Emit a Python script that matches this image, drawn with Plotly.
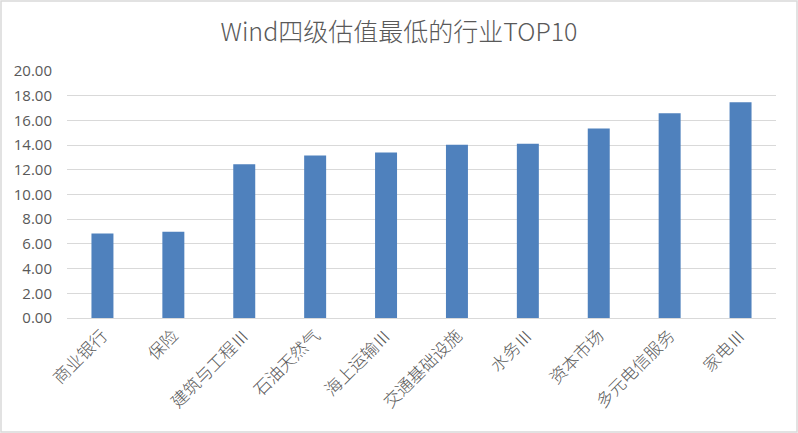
import plotly.graph_objects as go

# 行业与估值
industries = ["商业银行", "保险", "建筑与工程Ⅲ", "石油天然气", "海上运输Ⅲ",
              "交通基础设施", "水务Ⅲ", "资本市场", "多元电信服务", "家电Ⅲ"]
valuations = [6.85, 6.98, 12.45, 13.16, 13.40, 14.02, 14.10, 15.35, 16.57, 17.46]
y_ticks = [0, 2, 4, 6, 8, 10, 12, 14, 16, 18, 20]

W, H = 798, 433
ml, mr, mt, mb = 67, 22, 71, 115

fig = go.Figure(go.Bar(
    x=industries,
    y=valuations,
    marker=dict(color="#4F81BD", line=dict(width=0)),
))

fig.update_layout(
    width=W, height=H,
    margin=dict(l=ml, r=mr, t=mt, b=mb),
    paper_bgcolor="white",
    plot_bgcolor="white",
    bargap=0.69,
    showlegend=False,
    title=dict(
        text="Wind四级估值最低的行业TOP10",
        x=0.5, xref="container", y=0.925, yref="container",
        xanchor="center", yanchor="middle",
        font=dict(family="Noto Sans CJK SC", size=25, color="#595959", weight=300),
    ),
    font=dict(family="Noto Sans CJK SC", color="#595959"),
)

fig.update_xaxes(
    tickangle=-45,
    tickfont=dict(family="Noto Sans CJK SC", size=17, color="#595959", weight=300),
    showline=True, linecolor="#D9D9D9", linewidth=1,
    ticks="", showgrid=False,
)

fig.update_yaxes(
    range=[0, 20],
    tickvals=y_ticks,
    tickformat=".2f",
    tickfont=dict(family="Open Sans", size=15, color="#595959"),
    ticklabelstandoff=14,
    showgrid=True, gridcolor="#D9D9D9", gridwidth=1,
    zeroline=False, showline=False, ticks="",
)

# outer chart frame
pw, ph = W - ml - mr, H - mt - mb
fig.add_shape(
    type="rect", xref="paper", yref="paper",
    x0=(1 - ml) / pw, x1=(pw + mr - 1) / pw,
    y0=-(mb - 1) / ph, y1=(ph + mt - 1) / ph,
    line=dict(color="#D9D9D9", width=1.5),
    layer="below",
)

fig.write_html("out.html", config={"displayModeBar": False},
               post_script="document.body.style.margin='0';")
